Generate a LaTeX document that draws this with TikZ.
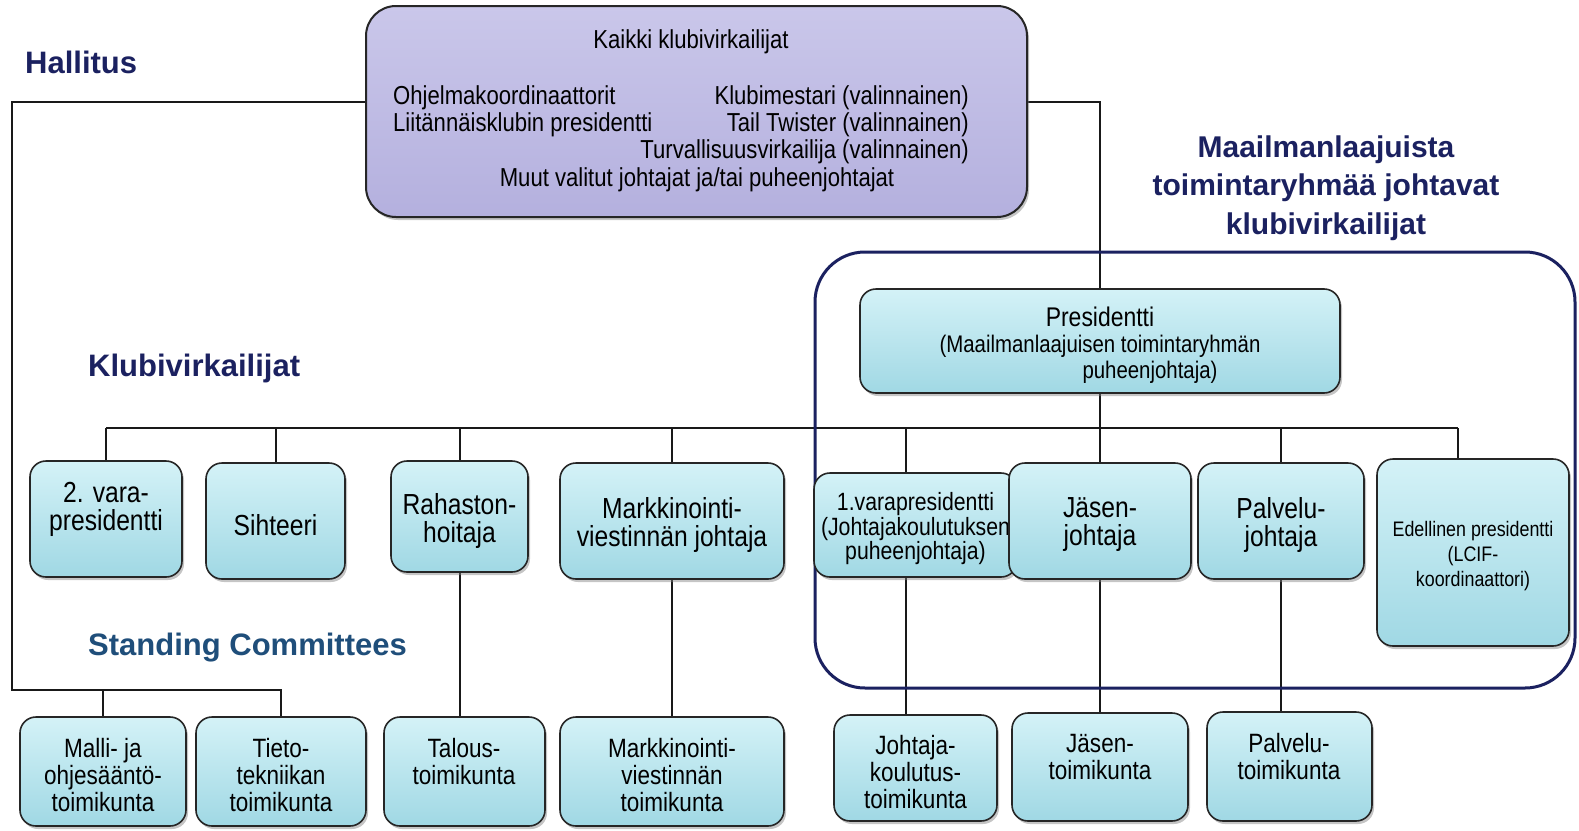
\documentclass[tikz,border=0pt]{standalone}
\usepackage{fontspec}
\setmainfont{Liberation Sans}
\newfontfamily\nf[FakeStretch=0.85]{Liberation Sans}
\usetikzlibrary{shadows,calc}
\definecolor{navy}{HTML}{1B2160}
\definecolor{steel}{HTML}{1F4E7A}
\definecolor{cyanL}{HTML}{D4F2F7}
\definecolor{cyanD}{HTML}{A0D8E4}
\definecolor{lavL}{HTML}{CAC7EA}
\definecolor{lavD}{HTML}{B4B0DE}
\pgfdeclarelayer{bg}
\pgfsetlayers{bg,main}
\tikzset{
 cbox/.style={draw=black!85, line width=1.6pt, rounded corners=16pt, top color=cyanL, bottom color=cyanD,
   inner sep=2pt, drop shadow={shadow xshift=2pt, shadow yshift=-3pt, opacity=0.45}},
 conn/.style={draw=black!90, line width=2pt},
 head/.style={font=\bfseries\fontsize{31}{34}\selectfont, text=navy, inner sep=0pt, anchor=west},
 tline/.style={font=\nf\fontsize{26}{27}\selectfont, inner sep=0pt},
 fa/.style={font=\nf\fontsize{29}{28}\selectfont},
 fb/.style={font=\nf\fontsize{26.5}{27}\selectfont},
 fp/.style={font=\nf\fontsize{24}{26}\selectfont},
 fv/.style={font=\nf\fontsize{25}{24.5}\selectfont},
 fe/.style={font=\nf\fontsize{21}{25}\selectfont},
 lbl/.style={align=center, inner sep=0pt},
}
\newcommand\bx[7][]{%
 \node[cbox,minimum width={(#5-#3)*1pt},minimum height={(#6-#4)*1pt}] (#2) at ({(#3+#5)/2},{(#4+#6)/2}) {};
 \node[lbl,#1,yshift=-4pt] (#2-t) at (#2.center) {#7};}
\begin{document}
\begin{tikzpicture}[x=1pt,y=-1pt]
\begin{pgfonlayer}{bg}
\fill[white] (0,0) rectangle (1579,830);
\end{pgfonlayer}
\useasboundingbox (0,0) rectangle (1579,830);

% headings
\node[head] (hal) at (25,62) {Hallitus};
\node[head] (klv) at (88,368) {Klubivirkailijat};
\node[head, text=steel] (stc) at (88,648) {Standing Committees};
\node[head, anchor=center, align=center, font=\bfseries\fontsize{30}{38.5}\selectfont] (mlj) at (1326,188)
  {Maailmanlaajuista\\toimintaryhmää johtavat\\klubivirkailijat};

% top box
\node[draw=black!85, line width=2pt, rounded corners=30pt, top color=lavL, bottom color=lavD,
  drop shadow={shadow xshift=2pt, shadow yshift=-3pt, opacity=0.45},
  minimum width=661pt, minimum height=211pt] (top) at (696.5,111.5) {};
\node[tline] (t0) at (691,42) {Kaikki klubivirkailijat};
\node[tline, anchor=west] (t1) at (393,98) {Ohjelmakoordinaattorit};
\node[tline, anchor=west] (t2) at (393,125) {Liitännäisklubin presidentti};
\node[tline, anchor=east] (t3) at (969,98) {Klubimestari (valinnainen)};
\node[tline, anchor=east] (t4) at (969,125) {Tail Twister (valinnainen)};
\node[tline, anchor=east] (t5) at (969,152) {Turvallisuusvirkailija (valinnainen)};
\node[tline] (t6) at (697,180) {Muut valitut johtajat ja/tai puheenjohtajat};

% group frame
\node[draw=navy, line width=3pt, rounded corners=50pt, minimum width=760pt, minimum height=436pt] (grp) at (1195,470) {};

% president
\bx[fp]{pres}{860}{289}{1340}{393}{{\fontsize{27}{26}\selectfont Presidentti}\\(Maailmanlaajuisen toimintaryhmän\\\hspace*{100pt}puheenjohtaja)}

% row 1
\bx{v2}{30}{461}{182}{577}{}
\node[fa, lbl] (v2t) at (106,509) {2. vara-\\presidentti};
\bx[fa]{sih}{206}{463}{345}{579}{Sihteeri}
\bx[fa]{rah}{391}{461}{528}{572}{Rahaston-\\hoitaja}
\bx[fa]{mkj}{560}{463}{784}{579}{Markkinointi-\\viestinnän johtaja}
\bx[fv]{vp1}{814}{473}{1017}{577}{1.varapresidentti\\(Johtajakoulutuksen\\puheenjohtaja)}
\bx[fa]{jas}{1009}{463}{1191}{579}{Jäsen-\\johtaja}
\bx[fa]{pal}{1198}{463}{1364}{579}{Palvelu-\\johtaja}
\bx[fe]{ede}{1377}{459}{1569}{646}{Edellinen presidentti\\(LCIF-\\koordinaattori)}

% row 2
\bx[fb]{malli}{20}{717}{186}{826}{Malli- ja\\ohjesääntö-\\toimikunta}
\bx[fb]{tieto}{196}{717}{366}{826}{Tieto-\\tekniikan\\toimikunta}
\bx{tal}{384}{717}{545}{826}{}
\node[fb, lbl] (talt) at (464,762) {Talous-\\toimikunta};
\bx[fb]{mkt}{560}{717}{784}{826}{Markkinointi-\\viestinnän\\toimikunta}
\bx[fb]{jkt}{834}{715}{997}{821}{Johtaja-\\koulutus-\\toimikunta}
\bx{jst}{1012}{713}{1188}{821}{}
\node[fb, lbl] (jstt) at (1100,757) {Jäsen-\\toimikunta};
\bx{pst}{1207}{712}{1372}{821}{}
\node[fb, lbl] (pstt) at (1289,757) {Palvelu-\\toimikunta};

% connectors
\coordinate (lcorner) at (12,690);
\coordinate (busL) at (106,428);
\coordinate (busR) at (1458,428);
\begin{pgfonlayer}{bg}
\draw[conn] ([yshift=9.5pt]top.west) -| (lcorner) -| (tieto.north);
\draw[conn] (malli.north) -- (malli.north |- lcorner);
\draw[conn] ([yshift=9.5pt]top.east) -| (pres.north);
\draw[conn] (pres.south) -- (jas.north);
\draw[conn] (busL) -- (busR);
\draw[conn] (v2.north) -- (v2.north |- busL);
\draw[conn] (sih.north) -- (sih.north |- busL);
\draw[conn] (rah.north) -- (rah.north |- busL);
\draw[conn] (mkj.north) -- (mkj.north |- busL);
\draw[conn] ([xshift=-10pt]vp1.north) -- ([xshift=-10pt]vp1.north |- busL);
\draw[conn] (pal.north) -- (pal.north |- busL);
\draw[conn] (busR) -- (busR |- ede.north);
\draw[conn] (rah.south) -- (rah.south |- tal.north);
\draw[conn] (mkj.south) -- (mkt.north);
\draw[conn] ([xshift=-10pt]vp1.south) -- ([xshift=-10pt]vp1.south |- jkt.north);
\draw[conn] (jas.south) -- (jas.south |- jst.north);
\draw[conn] (pal.south) -- (pal.south |- pst.north);
\end{pgfonlayer}
\end{tikzpicture}
\end{document}
